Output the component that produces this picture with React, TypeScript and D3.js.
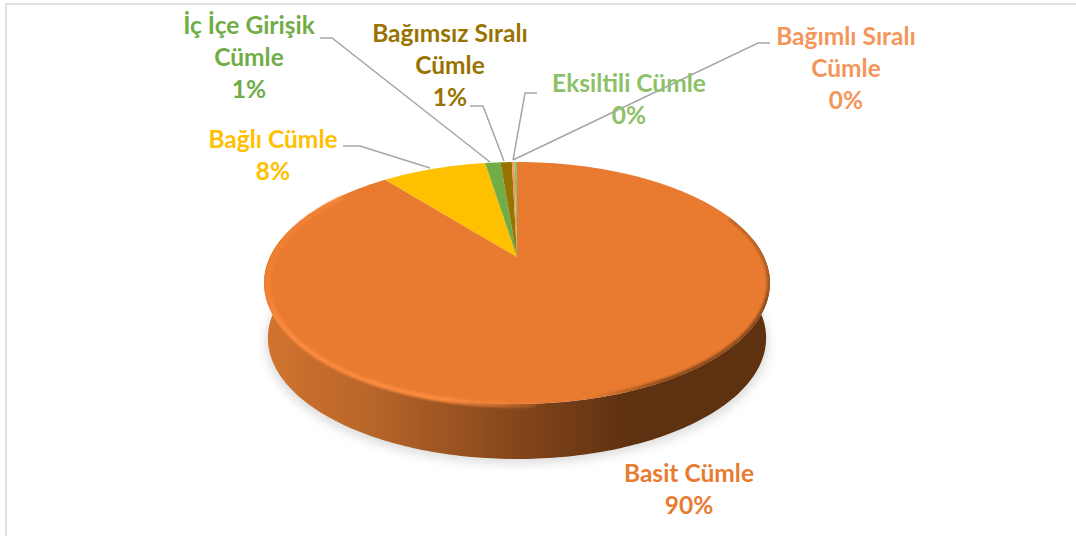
import React from "react";
import * as d3 from "d3";

const categories = ["Basit Cümle", "Bağlı Cümle", "İç İçe Girişik Cümle", "Bağımsız Sıralı Cümle", "Bağımlı Sıralı Cümle", "Eksiltili Cümle"];
const values = [89.3, 8.2, 1.2, 0.9, 0.2, 0.2];
const percentLabels = ["90%", "8%", "1%", "1%", "0%", "0%"];
const colors = ["#E97B30", "#FFC000", "#70AD47", "#997300", "#F4965A", "#8CC168"];
const labelLines = [["Basit Cümle"], ["Bağlı Cümle"], ["İç İçe Girişik", "Cümle"], ["Bağımsız Sıralı", "Cümle"], ["Bağımlı Sıralı", "Cümle"], ["Eksiltili Cümle"]];
const labelX = [689, 273, 249, 450, 846, 629];
const labelY = [482, 148, 34, 42, 45, 92];
const leaders: (number[][] | null)[] = [
  null,
  [[343, 146], [360, 146], [430, 168]],
  [[320, 38], [332, 38], [490, 162]],
  [[470, 106], [483, 106], [504, 161]],
  [[770, 43], [758, 43], [513, 160]],
  [[537, 93], [525, 93], [513, 160]],
];

const W = 1076, H = 536;
const apexX = 517, apexY = 257, RX = 247, RY = 115.4, K = 0.215, DEPTH = 55;

function project(a: number, drop = 0, scale = 1): [number, number] {
  const u = Math.sin(a), v = -Math.cos(a);
  const w = 1 - K * v;
  return [apexX + (scale * RX * u) / w, apexY + drop + (RY * v) / w];
}
function rimPath(a0: number, a1: number, drop = 0, scale = 1) {
  const n = Math.max(2, Math.ceil(Math.abs(a1 - a0) * 60));
  const pts = d3.range(n + 1).map((i) => project(a0 + ((a1 - a0) * i) / n, drop, scale));
  return d3.line()(pts) as string;
}

export default function App() {
  const arcs = d3.pie<number>().sort(null)(values);
  const full = rimPath(0, Math.PI * 2) + "Z";
  const sideA0 = Math.PI * 0.45, sideA1 = Math.PI * 1.55;
  const side = rimPath(sideA0, sideA1, 0) + "L" + rimPath(sideA1, sideA0, DEPTH, 0.985).slice(1) + "Z";
  const shadow = rimPath(0, Math.PI * 2, DEPTH + 5, 0.995) + "Z";
  return (
    <svg width={W} height={H} style={{ position: "absolute", left: 0, top: 0, background: "#fff" }} fontFamily="Lato" fontWeight={700}>
      <defs>
        <linearGradient id="side" gradientUnits="userSpaceOnUse" x1={265} x2={770} y1={0} y2={0}>
          <stop offset="0" stopColor="#D2742F" />
          <stop offset="0.2" stopColor="#B9662A" />
          <stop offset="0.5" stopColor="#84461B" />
          <stop offset="0.72" stopColor="#5E3111" />
          <stop offset="1" stopColor="#5E3111" />
        </linearGradient>
        <linearGradient id="rimLight" gradientUnits="userSpaceOnUse" x1={262} x2={560} y1={225} y2={420}>
          <stop offset="0" stopColor="#FA8A3C" stopOpacity={0} />
          <stop offset="0.22" stopColor="#FA8A3C" stopOpacity={1} />
          <stop offset="0.7" stopColor="#FA8A3C" stopOpacity={1} />
          <stop offset="1" stopColor="#FA8A3C" stopOpacity={0} />
        </linearGradient>
        <linearGradient id="rimDark" gradientUnits="userSpaceOnUse" x1={780} x2={600} y1={225} y2={410}>
          <stop offset="0" stopColor="#8A4B1C" stopOpacity={0} />
          <stop offset="0.25" stopColor="#8A4B1C" stopOpacity={1} />
          <stop offset="0.75" stopColor="#8A4B1C" stopOpacity={1} />
          <stop offset="1" stopColor="#8A4B1C" stopOpacity={0} />
        </linearGradient>
        <filter id="blur6" x="-10%" y="-20%" width="120%" height="140%"><feGaussianBlur stdDeviation="5" /></filter>
        <filter id="blur2" filterUnits="userSpaceOnUse" x="240" y="150" width="560" height="280"><feGaussianBlur stdDeviation="1.3" /></filter>
        <clipPath id="topClip"><path d={full} /></clipPath>
      </defs>
      <rect x={6} y={4} width={W} height={H} fill="#fff" stroke="#E2E2E2" strokeWidth={2} />
      <path d={shadow} fill="#C4C4C4" opacity={0.55} filter="url(#blur6)" />
      <path d={side} fill="url(#side)" />
      {arcs.map((d, i) => (
        <path key={categories[i]} d={`M${apexX},${apexY}L${rimPath(d.startAngle, d.endAngle).slice(1)}Z`} fill={colors[i]} />
      ))}
      <path d={rimPath(Math.PI * 0.98, Math.PI * 1.7, 1, 0.985)} fill="none" stroke="url(#rimLight)" strokeWidth={5} filter="url(#blur2)" />
      <g clipPath="url(#topClip)">
        <path d={rimPath(Math.PI * 0.38, Math.PI * 0.95, 0)} fill="none" stroke="url(#rimDark)" strokeWidth={6} filter="url(#blur2)" />
      </g>
      {leaders.map((l, i) => l && (
        <path key={i} d={d3.line()(l as [number, number][]) as string} fill="none" stroke="#A6A6A6" strokeWidth={1.5} />
      ))}
      {categories.map((c, i) => (
        <text key={c} x={labelX[i]} y={labelY[i]} textAnchor="middle" fontSize={24.5} fill={colors[i]}>
          {labelLines[i].map((t) => <tspan key={t} x={labelX[i]} dy={t === labelLines[i][0] ? 0 : 32}>{t}</tspan>)}
          <tspan x={labelX[i]} dy={32}>{percentLabels[i]}</tspan>
        </text>
      ))}
    </svg>
  );
}
